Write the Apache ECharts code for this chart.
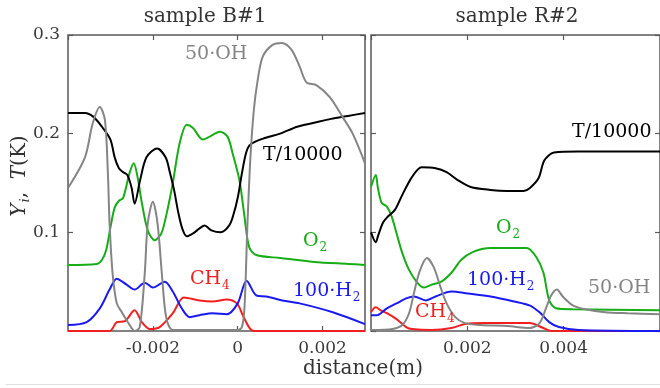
<!DOCTYPE html>
<html><head><meta charset="utf-8">
<script src="https://cdn.jsdelivr.net/npm/echarts@6/dist/echarts.min.js"></script>
<style>html,body{margin:0;padding:0;background:#fff}#c{width:660px;height:388px}</style>
</head><body><div id="c"></div>
<script>
// ---------- data: sample B#1 (left panel) ----------
const B_T = [[-0.0040,0.221],[-0.0036,0.221],[-0.0034,0.217],[-0.0032,0.207],[-0.0030,0.194],[-0.0029,0.176],[-0.0028,0.165],[-0.0027,0.161],[-0.0026,0.158],[-0.0025,0.145],[-0.00243,0.129],[-0.0023,0.153],[-0.00215,0.176],[-0.0019,0.185],[-0.0017,0.176],[-0.0016,0.161],[-0.0015,0.143],[-0.0014,0.12],[-0.0013,0.103],[-0.0012,0.096],[-0.00105,0.099],[-0.0009,0.104],[-0.00078,0.107],[-0.00062,0.102],[-0.0004,0.100],[-0.0002,0.107],[-0.0001,0.118],[0.0,0.135],[0.0001,0.160],[0.0002,0.181],[0.0003,0.189],[0.0006,0.195],[0.001,0.200],[0.0014,0.207],[0.0018,0.211],[0.0022,0.215],[0.0026,0.218],[0.003,0.221]];
const B_O2 = [[-0.0040,0.067],[-0.00332,0.068],[-0.0032,0.072],[-0.0031,0.082],[-0.0030,0.105],[-0.0029,0.125],[-0.0028,0.132],[-0.0027,0.135],[-0.00255,0.16],[-0.00245,0.170],[-0.00236,0.156],[-0.00226,0.13],[-0.00212,0.102],[-0.00196,0.092],[-0.0018,0.099],[-0.00167,0.12],[-0.00153,0.15],[-0.00137,0.19],[-0.0012,0.209],[-0.00106,0.206],[-0.00082,0.194],[-0.00066,0.197],[-0.00042,0.202],[-0.00024,0.197],[-0.00012,0.18],[0.00004,0.153],[0.00016,0.116],[0.00027,0.085],[0.00044,0.077],[0.001,0.074],[0.0018,0.070],[0.0026,0.068],[0.003,0.067]];
const B_H2 = [[-0.004,0.006],[-0.00356,0.009],[-0.00325,0.023],[-0.00302,0.042],[-0.00285,0.053],[-0.00262,0.047],[-0.00243,0.042],[-0.00219,0.049],[-0.0020,0.044],[-0.00172,0.050],[-0.00153,0.040],[-0.00132,0.023],[-0.00113,0.014],[-0.0009,0.016],[-0.00059,0.018],[-0.00026,0.017],[0.0,0.028],[0.00021,0.051],[0.00044,0.036],[0.00067,0.035],[0.00105,0.031],[0.00146,0.028],[0.00224,0.019],[0.003,0.007]];
const B_CH4 = [[-0.004,0.0],[-0.00302,0.0],[-0.00285,0.009],[-0.00266,0.010],[-0.00243,0.021],[-0.00226,0.009],[-0.00207,0.002],[-0.00184,0.004],[-0.00153,0.018],[-0.00127,0.034],[-0.0009,0.031],[-0.00059,0.030],[-0.00026,0.032],[-0.00002,0.028],[0.00012,0.016],[0.00028,0.003],[0.0004,0.0],[0.003,0.0]];
const B_OH = [[-0.004,0.145],[-0.0036,0.176],[-0.00342,0.21],[-0.00325,0.227],[-0.00313,0.214],[-0.00306,0.16],[-0.00302,0.109],[-0.00295,0.059],[-0.00285,0.028],[-0.00273,0.019],[-0.00262,0.011],[-0.0025,0.003],[-0.00243,0.0],[-0.00231,0.004],[-0.00219,0.059],[-0.00212,0.109],[-0.0020,0.131],[-0.00189,0.109],[-0.00179,0.059],[-0.00172,0.024],[-0.00165,0.008],[-0.00153,0.001],[0.0,0.001],[0.0001,0.004],[0.00016,0.024],[0.00023,0.109],[0.0003,0.176],[0.00038,0.224],[0.00047,0.254],[0.00059,0.278],[0.00082,0.290],[0.00104,0.292],[0.00127,0.285],[0.00146,0.268],[0.00162,0.252],[0.00186,0.249],[0.00217,0.237],[0.00247,0.217],[0.00271,0.200],[0.003,0.170]];
// ---------- data: sample R#2 (right panel) ----------
const R_T = [[0,0.100],[0.0001,0.090],[0.00015,0.097],[0.00025,0.110],[0.00035,0.116],[0.0005,0.123],[0.00065,0.138],[0.00085,0.156],[0.00105,0.166],[0.00134,0.165],[0.00157,0.161],[0.0018,0.153],[0.00207,0.146],[0.00248,0.143],[0.00283,0.142],[0.00317,0.142],[0.0033,0.145],[0.00348,0.155],[0.0036,0.173],[0.0038,0.181],[0.0043,0.182],[0.006,0.182]];
const R_O2 = [[0,0.146],[0.0001,0.158],[0.00014,0.146],[0.00022,0.130],[0.00033,0.126],[0.00043,0.116],[0.00053,0.099],[0.00065,0.079],[0.00079,0.062],[0.00096,0.049],[0.0011,0.044],[0.00126,0.047],[0.00146,0.050],[0.00167,0.059],[0.00187,0.072],[0.00211,0.080],[0.00248,0.084],[0.00323,0.084],[0.00343,0.075],[0.00358,0.059],[0.0037,0.031],[0.00384,0.023],[0.00419,0.022],[0.006,0.021]];
const R_H2 = [[0,0.016],[0.00012,0.016],[0.00033,0.023],[0.00053,0.028],[0.00073,0.033],[0.00089,0.035],[0.00114,0.031],[0.00134,0.035],[0.00167,0.040],[0.00201,0.038],[0.00248,0.035],[0.00297,0.030],[0.00329,0.026],[0.0035,0.019],[0.0037,0.009],[0.0039,0.004],[0.00431,0.001],[0.006,0.0]];
const R_CH4 = [[0,0.019],[0.0001,0.024],[0.0002,0.021],[0.00033,0.018],[0.00053,0.012],[0.00073,0.004],[0.00085,0.002],[0.00126,0.001],[0.00167,0.003],[0.00195,0.007],[0.00236,0.008],[0.00329,0.008],[0.00358,0.003],[0.00374,0.0],[0.006,0.0]];
const R_OH = [[0,0.001],[0.00045,0.002],[0.00065,0.006],[0.00079,0.018],[0.00089,0.038],[0.001,0.059],[0.00116,0.074],[0.0013,0.065],[0.00144,0.045],[0.00157,0.028],[0.00175,0.014],[0.00195,0.008],[0.00228,0.006],[0.00283,0.005],[0.00329,0.003],[0.0035,0.008],[0.00364,0.024],[0.00374,0.036],[0.00386,0.042],[0.00398,0.035],[0.00419,0.026],[0.00445,0.022],[0.00486,0.019],[0.00533,0.018],[0.006,0.017]];
// ---------- axes / text ----------
const B_X = {min:-0.004, max:0.003, interval:0.002};
const R_X = {min:0, max:0.006, interval:0.002};
const Y_AX = {min:0, max:0.3, interval:0.1};
const TITLES = ['sample B#1','sample R#2'];
const X_NAME = 'distance(m)';

const FONT = 'DejaVu Serif';
const FRAME = '#5a5a5a';
const TXT = '#3a3a3a';
const C = {T:'#000000', O2:'#17ad17', H2:'#1a1af0', CH4:'#f02020', OH:'#858585'};

function fmt(v){ return String(+(+v).toFixed(4)); }
function xAx(grid, r, pos, labels){
  return {type:'value', gridIndex:grid, position:pos, min:r.min, max:r.max, interval:r.interval,
    axisLine:{show:false, onZero:false}, splitLine:{show:false},
    axisTick:{show:true, inside:true, length:5, lineStyle:{color:FRAME, width:1.2}},
    axisLabel:{show:labels, showMinLabel:false, showMaxLabel:false, margin:9, formatter:fmt,
      fontFamily:FONT, fontSize:17, color:TXT}};
}
function yAx(grid, pos, labels){
  return {type:'value', gridIndex:grid, position:pos, min:Y_AX.min, max:Y_AX.max, interval:Y_AX.interval,
    axisLine:{show:false, onZero:false}, splitLine:{show:false},
    axisTick:{show:true, inside:true, length:5, lineStyle:{color:FRAME, width:1.2}},
    axisLabel:{show:labels, showMinLabel:false, showMaxLabel:true, margin:8, formatter:fmt,
      fontFamily:FONT, fontSize:17, color:TXT}};
}
function line(data, color, xi, yi, z){
  return {type:'line', data:data, xAxisIndex:xi, yAxisIndex:yi, showSymbol:false, smooth:0.3,
    z:z, lineStyle:{color:color, width:2}, itemStyle:{color:color}, silent:true, animation:false};
}
function lab(x, y, main, sub, color){
  const rich = {m:{fontFamily:FONT, fontSize:19, fill:color, color:color},
                s:{fontFamily:FONT, fontSize:12, fill:color, color:color, padding:[14,0,0,1]}};
  return {type:'text', x:x, y:y, z:100,
    style:{text: sub ? '{m|'+main+'}{s|'+sub+'}' : '{m|'+main+'}', rich:rich,
      fill:color, textAlign:'left', textVerticalAlign:'middle', font:'19px "'+FONT+'"'}};
}

const chart = echarts.init(document.getElementById('c'), null, {renderer:'canvas'});
chart.setOption({
  animation:false,
  backgroundColor:'#ffffff',
  grid:[
    {left:68, right:295, top:35, bottom:57, show:true, borderColor:FRAME, borderWidth:1.5, backgroundColor:'transparent'},
    {left:371, right:-6, top:35, bottom:57, show:true, borderColor:FRAME, borderWidth:1.5, backgroundColor:'transparent'}
  ],
  xAxis:[xAx(0,B_X,'bottom',true), xAx(0,B_X,'top',false), xAx(1,R_X,'bottom',true), xAx(1,R_X,'top',false)],
  yAxis:[yAx(0,'left',true), yAx(0,'right',false), yAx(1,'left',false), yAx(1,'right',false)],
  series:[
    line(B_CH4, C.CH4, 0, 0, 2), line(B_H2, C.H2, 0, 0, 3), line(B_O2, C.O2, 0, 0, 4), line(B_T, C.T, 0, 0, 5), line(B_OH, C.OH, 0, 0, 6),
    line(R_CH4, C.CH4, 2, 2, 2), line(R_H2, C.H2, 2, 2, 3), line(R_O2, C.O2, 2, 2, 4), line(R_T, C.T, 2, 2, 5), line(R_OH, C.OH, 2, 2, 6)
  ],
  graphic:[
    {type:'text', x:205, y:17, style:{text:TITLES[0], font:'20px "'+FONT+'"', fill:'#333', textAlign:'center', textVerticalAlign:'middle'}},
    {type:'text', x:517, y:17, style:{text:TITLES[1], font:'20px "'+FONT+'"', fill:'#333', textAlign:'center', textVerticalAlign:'middle'}},
    {type:'text', x:363, y:369, style:{text:X_NAME, font:'20px "'+FONT+'"', fill:'#333', textAlign:'center', textVerticalAlign:'middle'}},
    {type:'text', x:20, y:176, rotation:Math.PI/2,
      style:{text:'{i|Y}{is|i}{n|,  }{i|T}{n|(K)}', textAlign:'center', textVerticalAlign:'middle', fill:'#333',
        rich:{i:{fontFamily:FONT, fontStyle:'italic', fontSize:20, fill:'#333'},
              is:{fontFamily:FONT, fontStyle:'italic', fontSize:13, fill:'#333', padding:[12,0,0,1]},
              n:{fontFamily:FONT, fontSize:20, fill:'#333'}}}},
    {type:'line', shape:{x1:6, y1:384.5, x2:660, y2:384.5}, style:{stroke:'#dedede', lineWidth:1}},
    lab(185, 54, '50·OH', null, C.OH),
    lab(263, 155, 'T/10000', null, C.T),
    lab(303, 241, 'O', '2', C.O2),
    lab(190, 279, 'CH', '4', C.CH4),
    lab(293, 291, '100·H', '2', C.H2),
    lab(572, 132, 'T/10000', null, C.T),
    lab(496, 228, 'O', '2', C.O2),
    lab(467, 280, '100·H', '2', C.H2),
    lab(415, 312, 'CH', '4', C.CH4),
    lab(588, 288, '50·OH', null, C.OH)
  ]
});
</script></body></html>
